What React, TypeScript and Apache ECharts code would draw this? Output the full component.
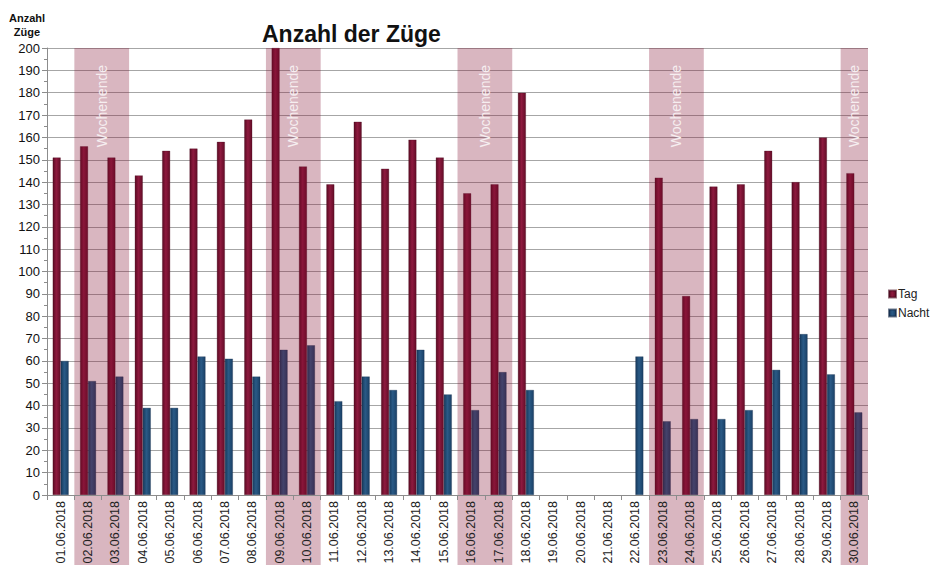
import React, { useEffect, useRef } from "react";
import * as echarts from "echarts";

const categories = [
  "01.06.2018", "02.06.2018", "03.06.2018", "04.06.2018", "05.06.2018",
  "06.06.2018", "07.06.2018", "08.06.2018", "09.06.2018", "10.06.2018",
  "11.06.2018", "12.06.2018", "13.06.2018", "14.06.2018", "15.06.2018",
  "16.06.2018", "17.06.2018", "18.06.2018", "19.06.2018", "20.06.2018",
  "21.06.2018", "22.06.2018", "23.06.2018", "24.06.2018", "25.06.2018",
  "26.06.2018", "27.06.2018", "28.06.2018", "29.06.2018", "30.06.2018",
];

const tagValues = [
  151, 156, 151, 143, 154, 155, 158, 168, 200, 147,
  139, 167, 146, 159, 151, 135, 139, 180, null, null,
  null, null, 142, 89, 138, 139, 154, 140, 160, 144,
];

const nachtValues = [
  60, 51, 53, 39, 39, 62, 61, 53, 65, 67,
  42, 53, 47, 65, 45, 38, 55, 47, null, null,
  null, 62, 33, 34, 34, 38, 56, 72, 54, 37,
];

const weekendStart = ["02.06.2018", "09.06.2018", "16.06.2018", "23.06.2018", "30.06.2018"];
const weekendEnd = ["03.06.2018", "10.06.2018", "17.06.2018", "24.06.2018", "30.06.2018"];

const FONT = "'Liberation Sans', Arial, sans-serif";

export default function App() {
  const ref = useRef<HTMLDivElement>(null);

  useEffect(() => {
    if (!ref.current) return;
    const chart = echarts.init(ref.current, null, { renderer: "svg" });

    const weekendData = weekendStart.map((s, i) => [
      categories.indexOf(s),
      categories.indexOf(weekendEnd[i]),
      0,
    ]);

    const tagGradient = new echarts.graphic.LinearGradient(0, 0, 1, 0, [
      { offset: 0, color: "#5a0a22" },
      { offset: 0.45, color: "#8e1a3f" },
      { offset: 1, color: "#640c27" },
    ]);
    const nachtGradient = new echarts.graphic.LinearGradient(0, 0, 1, 0, [
      { offset: 0, color: "#173a5c" },
      { offset: 0.45, color: "#2a5a86" },
      { offset: 1, color: "#1a4066" },
    ]);

    chart.setOption({
      animation: false,
      textStyle: { fontFamily: FONT },
      title: {
        text: "Anzahl der Züge",
        left: 257,
        top: 17,
        textStyle: { fontFamily: FONT, fontSize: 23, fontWeight: "bold", color: "#111" },
      },
      legend: {
        orient: "vertical",
        left: 883,
        top: 283,
        itemWidth: 7,
        itemHeight: 7,
        itemGap: 7,
        icon: "rect",
        textStyle: { fontFamily: FONT, fontSize: 12, color: "#222", padding: [0, 0, 0, -3] },
        data: ["Tag", "Nacht"],
      },
      grid: {
        left: 47,
        right: 62,
        top: 48,
        bottom: 70,
        containLabel: false,
        outerBoundsMode: "none",
      },
      xAxis: {
        type: "category",
        data: categories,
        z: 5,
        axisLine: { show: true, lineStyle: { color: "#8c8c8c", width: 1 } },
        axisTick: { show: true, alignWithLabel: false, length: 5, lineStyle: { color: "#8c8c8c" } },
        axisLabel: {
          interval: 0,
          rotate: 90,
          margin: 6,
          fontFamily: FONT,
          fontSize: 12.5,
          color: "#222",
        },
        splitLine: { show: false },
      },
      yAxis: {
        type: "value",
        min: 0,
        max: 200,
        interval: 10,
        name: "Anzahl\nZüge",
        nameLocation: "end",
        nameGap: 9,
        nameTextStyle: {
          fontFamily: FONT,
          fontSize: 11,
          fontWeight: "bold",
          color: "#111",
          align: "center",
          lineHeight: 14,
          padding: [0, 40, 0, 0],
        },
        axisLine: { show: true, lineStyle: { color: "#8c8c8c", width: 1 } },
        axisTick: { show: true, length: 5, lineStyle: { color: "#8c8c8c" } },
        minorTick: { show: true, splitNumber: 2, length: 3, lineStyle: { color: "#8c8c8c" } },
        axisLabel: { fontFamily: FONT, fontSize: 13, color: "#111", margin: 7 },
        splitLine: { show: true, lineStyle: { color: "#a6a6a6", width: 1 } },
      },
      series: [
        {
          name: "Tag",
          type: "bar",
          data: tagValues,
          barWidth: 8,
          barGap: "0%",
          z: 2,
          itemStyle: { color: tagGradient, borderColor: "rgba(70,10,30,0.6)", borderWidth: 0.5 },
        },
        {
          name: "Nacht",
          type: "bar",
          data: nachtValues,
          barWidth: 8,
          barGap: "0%",
          z: 2,
          itemStyle: { color: nachtGradient, borderColor: "rgba(20,40,70,0.6)", borderWidth: 0.5 },
        },
        {
          name: "Wochenende",
          type: "custom",
          z: 3,
          clip: false,
          silent: true,
          data: weekendData,
          encode: { x: [0, 1], y: 2 },
          renderItem: (params: any, api: any) => {
            const s = api.value(0);
            const e = api.value(1);
            const p0 = api.coord([s, 0]);
            const p1 = api.coord([e, 0]);
            const bw = api.size([1, 0])[0];
            const cs = params.coordSys;
            const x0 = p0[0] - bw / 2;
            const x1 = p1[0] + bw / 2;
            const top = cs.y;
            const bottom = api.getHeight();
            return {
              type: "group",
              children: [
                {
                  type: "rect",
                  shape: { x: x0, y: top, width: x1 - x0, height: bottom - top },
                  style: { fill: "rgba(128,12,48,0.3)" },
                },
                {
                  type: "text",
                  x: (x0 + x1) / 2,
                  y: top + 17,
                  rotation: Math.PI / 2,
                  style: {
                    text: "Wochenende",
                    fill: "#f6eef0",
                    font: "14px 'Liberation Sans', Arial, sans-serif",
                    align: "right",
                    verticalAlign: "middle",
                  },
                },
              ],
            };
          },
        },
      ],
    });

    return () => chart.dispose();
  }, []);

  return <div ref={ref} style={{ width: 930, height: 565, position: "absolute", left: 0, top: 0 }} />;
}
